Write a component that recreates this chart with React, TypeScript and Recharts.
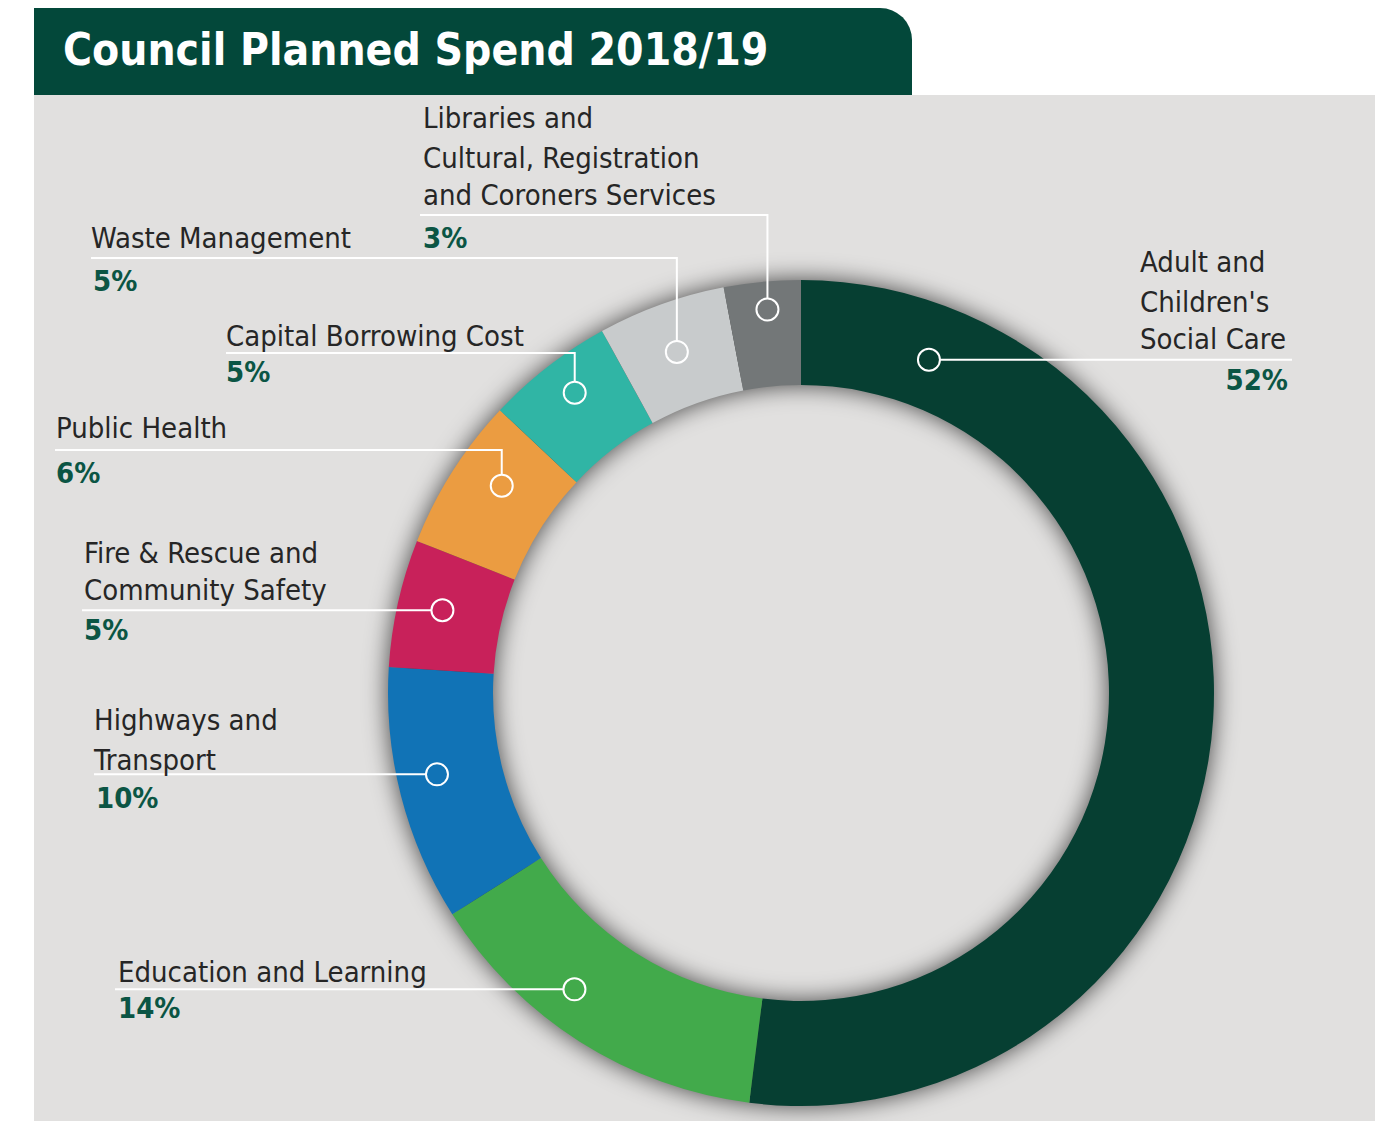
import { PieChart, Pie, Cell } from "recharts"

const categories = [
  "Adult and Children's Social Care",
  "Education and Learning",
  "Highways and Transport",
  "Fire & Rescue and Community Safety",
  "Public Health",
  "Capital Borrowing Cost",
  "Waste Management",
  "Libraries and Cultural, Registration and Coroners Services",
]
const shares = [52, 14, 10, 5, 6, 5, 5, 3]
const colors = ["#063f32", "#42aa4b", "#1173b6", "#c8215a", "#eb9c41", "#30b5a5", "#c8cbcc", "#737778"]

const data = categories.map((name, i) => ({ name, value: shares[i] }))
const total = shares.reduce((a, b) => a + b, 0)
const ring = [{ name: "ring", value: total }]

const FONT = "'DejaVu Sans Condensed', 'DejaVu Sans', sans-serif"
const RAD = Math.PI / 180

// label placement per slice, in slice order
const labelLayout: any[] = [
  { lines: ["Adult and", "Children's", "Social Care"], x: 1140, ys: [262, 302, 339], lineEnd: 1292, pctX: 1288, pctY: 380, pctAnchor: "end", angle: 69, r: 357 },
  { lines: ["Education and Learning"], x: 118, ys: [972], lineEnd: 115, pctX: 118, pctY: 1008, da: -5, r: 373 },
  { lines: ["Highways and", "Transport"], x: 94, ys: [720, 760], lineEnd: 94, pctX: 96, pctY: 798, da: -1.8, r: 373 },
  { lines: ["Fire & Rescue and", "Community Safety"], x: 84, ys: [553, 590], lineEnd: 82, pctX: 84, pctY: 630, da: -0.4, r: 368 },
  { lines: ["Public Health"], x: 56, ys: [428], elbowY: 450, lineEnd: 55, pctX: 56, pctY: 473, da: -2.3, r: 364 },
  { lines: ["Capital Borrowing Cost"], x: 226, ys: [336], elbowY: 353, lineEnd: 226, pctX: 226, pctY: 372, da: -0.8, r: 376 },
  { lines: ["Waste Management"], x: 91, ys: [238], elbowY: 258, lineEnd: 91, pctX: 93, pctY: 281, da: 0.2, r: 363 },
  { lines: ["Libraries and", "Cultural, Registration", "and Coroners Services"], x: 423, ys: [118, 158, 195], elbowY: 215, lineEnd: 420, pctX: 423, pctY: 238, da: -0.4, r: 385 },
]

const renderLabel = (props: any) => {
  const { cx, cy, midAngle, index, value } = props
  const l = labelLayout[index]
  const a = (l.angle != null ? l.angle : midAngle + (l.da || 0)) * RAD
  const mx = cx + l.r * Math.cos(a)
  const my = cy - l.r * Math.sin(a)
  const mr = 11
  let d = ""
  if (l.elbowY != null) d = `M${mx},${my - mr}V${l.elbowY}H${l.lineEnd}`
  else d = `M${mx + (l.lineEnd > mx ? mr : -mr)},${my}H${l.lineEnd}`
  return (
    <g key={`lbl-${index}`}>
      <path d={d} stroke="#ffffff" strokeWidth={2} fill="none" />
      <circle cx={mx} cy={my} r={mr} stroke="#ffffff" strokeWidth={2} fill="none" />
      {l.lines.map((t: string, i: number) => (
        <text key={i} x={l.x} y={l.ys[i]} dominantBaseline="central" fontFamily={FONT} fontSize={29} fill="#262626">
          {t}
        </text>
      ))}
      <text x={l.pctX} y={l.pctY} dominantBaseline="central" textAnchor={l.pctAnchor || "start"} fontFamily={FONT} fontWeight="bold" fontSize={29} fill="#0b5544">
        {value}%
      </text>
    </g>
  )
}

export default function App() {
  return (
    <div style={{ position: "absolute", left: 0, top: 0, width: 1375, height: 1121, background: "#ffffff", overflow: "hidden" }}>
      <div style={{ position: "absolute", left: 34, top: 95, width: 1341, height: 1026, background: "#e1e0df" }} />
      <div
        style={{
          position: "absolute",
          left: 34,
          top: 8,
          width: 878,
          height: 87,
          background: "#03483a",
          borderTopRightRadius: 32,
          color: "#ffffff",
          fontFamily: FONT,
          fontWeight: "bold",
          fontSize: 44,
          lineHeight: "84px",
          paddingLeft: 29,
          boxSizing: "border-box",
          whiteSpace: "nowrap",
        }}
      >
        Council Planned Spend 2018/19
      </div>
      <div style={{ position: "absolute", left: 0, top: 0 }}>
        <PieChart width={1375} height={1121} margin={{ top: 0, right: 0, bottom: 0, left: 0 }}>
          <defs>
            <filter id="ringBlur" x="-20%" y="-20%" width="140%" height="140%">
              <feGaussianBlur stdDeviation="12" />
            </filter>
          </defs>
          <Pie data={ring} dataKey="value" cx={801} cy={693} innerRadius={308} outerRadius={413} startAngle={90} endAngle={-270} stroke="none" isAnimationActive={false}>
            <Cell fill="#000000" fillOpacity={0.7} filter="url(#ringBlur)" />
          </Pie>
          <Pie
            data={data}
            dataKey="value"
            nameKey="name"
            cx={801}
            cy={693}
            innerRadius={308}
            outerRadius={413}
            startAngle={90}
            endAngle={-270}
            stroke="none"
            label={renderLabel}
            labelLine={false}
            isAnimationActive={false}
          >
            {data.map((d, i) => (
              <Cell key={d.name} fill={colors[i]} />
            ))}
          </Pie>
        </PieChart>
      </div>
    </div>
  )
}
